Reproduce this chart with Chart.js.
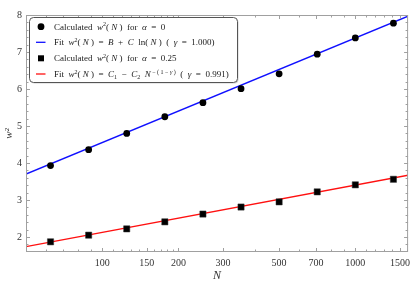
<!DOCTYPE html>
<html lang="en">
<head>
<meta charset="UTF-8">
<title>w2 vs N</title>
<script src="https://cdn.jsdelivr.net/npm/chart.js"></script>
<style>
  html, body { margin: 0; padding: 0; background: #fff; }
  #wrap { width: 415px; height: 286px; position: relative; }
</style>
</head>
<body>
<div id="wrap"><canvas id="grafico"></canvas></div>
<script>
  // sizes N and measured w^2
  const tamanhos = [62.5, 88.4, 125, 176.8, 250, 353.6, 500, 707.1, 1000, 1414.2];
  const w2Alpha0 = [3.93, 4.36, 4.80, 5.25, 5.63, 6.01, 6.41, 6.94, 7.38, 7.78];
  const w2Alpha025 = [1.87, 2.05, 2.22, 2.41, 2.62, 2.81, 2.95, 3.22, 3.41, 3.56];
  // fit curves, read at the frame edges
  const ajusteN = [50, 1616];
  const ajusteLog = [3.70, 7.97];
  const ajustePot = [1.74, 3.67];
  // axis ticks
  const ticksX = [100, 150, 200, 300, 500, 700, 1000, 1500];
  const ticksXmenor = [60, 70, 80, 90, 110, 120, 130, 140, 160, 170, 180, 190, 400, 600, 800, 900, 1100, 1200, 1300, 1400, 1600];
  const ticksY = [2, 3, 4, 5, 6, 7, 8];

  const serif = '"Liberation Serif", "DejaVu Serif", serif';
  const pares = (xs, ys) => xs.map((x, i) => ({ x: x, y: ys[i] }));

  // legend text pieces: r roman, i italic, s superscript, b subscript
  const legenda = [
    { tipo: 'circle', partes: [['Calculated  ', 'r'], ['w', 'i'], ['2', 's'], ['( ', 'r'], ['N', 'i'], [' )  for  ', 'r'], ['α', 'i'], ['  =  0', 'r']] },
    { tipo: 'line', cor: '#1010ff', partes: [['Fit  ', 'r'], ['w', 'i'], ['2', 's'], ['( ', 'r'], ['N', 'i'], [' )  =  ', 'r'], ['B', 'i'], ['  +  ', 'r'], ['C', 'i'], ['  ln( ', 'r'], ['N', 'i'], [' )  (  ', 'r'], ['γ', 'i'], ['  =  1.000)', 'r']] },
    { tipo: 'rect', partes: [['Calculated  ', 'r'], ['w', 'i'], ['2', 's'], ['( ', 'r'], ['N', 'i'], [' )  for  ', 'r'], ['α', 'i'], ['  =  0.25', 'r']] },
    { tipo: 'line', cor: '#ff1010', partes: [['Fit  ', 'r'], ['w', 'i'], ['2', 's'], ['( ', 'r'], ['N', 'i'], [' )  =  ', 'r'], ['C', 'i'], ['1', 'b'], ['  −  ', 'r'], ['C', 'i'], ['2', 'b'], ['  ', 'r'], ['N', 'i'], [' − ( 1 − ', 's'], ['γ', 'si'], [' )', 's'], ['  (  ', 'r'], ['γ', 'i'], ['  =  0.991)', 'r']] }
  ];

  const moldura = {
    id: 'moldura',
    afterDraw(chart) {
      const { ctx, chartArea: a, scales } = chart;
      ctx.save();
      ctx.strokeStyle = '#a0a0a0';
      ctx.lineWidth = 1;
      ctx.strokeRect(a.left + 0.5, a.top + 0.5, a.right - a.left - 1, a.bottom - a.top - 1);
      ctx.beginPath();
      const tx = (v, len) => {
        const px = Math.round(scales.x.getPixelForValue(v)) + 0.5;
        if (px < a.left || px > a.right) return;
        ctx.moveTo(px, a.bottom); ctx.lineTo(px, a.bottom - len);
        ctx.moveTo(px, a.top); ctx.lineTo(px, a.top + len);
      };
      const ty = (v, len) => {
        const py = Math.round(scales.y.getPixelForValue(v)) + 0.5;
        if (py < a.top || py > a.bottom) return;
        ctx.moveTo(a.left, py); ctx.lineTo(a.left + len, py);
        ctx.moveTo(a.right, py); ctx.lineTo(a.right - len, py);
      };
      ticksX.forEach(v => tx(v, 4));
      ticksXmenor.forEach(v => tx(v, 2.5));
      for (let v = 1.6; v < 8.01; v += 0.2) {
        const inteiro = Math.abs(v - Math.round(v)) < 0.01;
        ty(v, inteiro ? 4 : 2.5);
      }
      ctx.stroke();
      ctx.restore();
    }
  };

  const caixaLegenda = {
    id: 'caixaLegenda',
    afterDraw(chart) {
      const ctx = chart.ctx;
      const x0 = 29, y0 = 17, w = 208, h = 65;
      ctx.save();
      // shadow
      ctx.fillStyle = 'rgba(0,0,0,0.18)';
      ctx.beginPath(); ctx.roundRect(x0 + 1.5, y0 + 1.5, w, h, 4); ctx.fill();
      ctx.fillStyle = '#fff';
      ctx.strokeStyle = '#555';
      ctx.lineWidth = 1;
      ctx.beginPath(); ctx.roundRect(x0 + 0.5, y0 + 0.5, w, h, 4); ctx.fill(); ctx.stroke();

      const linhas = [26.7, 42.3, 58.3, 74];
      legenda.forEach((item, k) => {
        const cy = linhas[k];
        ctx.fillStyle = '#000';
        if (item.tipo === 'circle') {
          ctx.beginPath(); ctx.arc(41, cy, 3.4, 0, Math.PI * 2); ctx.fill();
        } else if (item.tipo === 'rect') {
          ctx.fillRect(38, cy - 3, 6, 6);
        } else {
          ctx.strokeStyle = item.cor; ctx.lineWidth = 1.3;
          ctx.beginPath(); ctx.moveTo(36, cy); ctx.lineTo(45.5, cy); ctx.stroke();
        }
        let x = 54;
        ctx.textBaseline = 'alphabetic';
        ctx.fillStyle = '#1a1a1a';
        item.partes.forEach(([t, st]) => {
          let dy = 3, tam = 9, it = false;
          if (st === 'i') it = true;
          if (st === 's' || st === 'si') { tam = 6; dy = -0.5; it = st === 'si'; }
          if (st === 'b') { tam = 6; dy = 5; }
          ctx.font = (it ? 'italic ' : '') + tam + 'px ' + serif;
          ctx.fillText(t, x, cy + dy);
          x += ctx.measureText(t).width;
        });
      });
      ctx.restore();
    }
  };

  new Chart(document.getElementById('grafico'), {
    type: 'scatter',
    data: {
      datasets: [
        { data: pares(tamanhos, w2Alpha0), pointStyle: 'circle', pointRadius: 3.4, backgroundColor: '#000', borderColor: '#000', borderWidth: 0, order: 0 },
        { data: pares(tamanhos, w2Alpha025), pointStyle: 'rect', pointRadius: 4.4, backgroundColor: '#000', borderColor: '#333', borderWidth: 0.5, order: 1 },
        { data: pares(ajusteN, ajusteLog), showLine: true, pointRadius: 0, borderColor: '#1010ff', borderWidth: 1.4, order: 2 },
        { data: pares(ajusteN, ajustePot), showLine: true, pointRadius: 0, borderColor: '#ff1010', borderWidth: 1.4, order: 3 }
      ]
    },
    options: {
      responsive: true,
      maintainAspectRatio: false,
      animation: false,
      layout: { padding: { top: 15, right: 4, left: 0, bottom: 0 } },
      plugins: { legend: { display: false }, tooltip: { enabled: false } },
      scales: {
        x: {
          type: 'logarithmic',
          min: 50, max: 1616,
          afterBuildTicks: s => { s.ticks = ticksX.map(v => ({ value: v })); },
          afterFit: s => { s.height = 34; },
          grid: { display: false, drawTicks: false },
          border: { display: false },
          ticks: { color: '#333', padding: 5, maxRotation: 0, autoSkip: false, font: { family: serif, size: 10 }, callback: v => String(v) },
          title: { display: true, text: 'N', color: '#333', padding: { top: 0, bottom: 3 }, font: { family: serif, size: 12, style: 'italic' } }
        },
        y: {
          min: 1.595, max: 8.0,
          afterBuildTicks: s => { s.ticks = ticksY.map(v => ({ value: v })); },
          afterFit: s => { s.width = 26; },
          grid: { display: false, drawTicks: false },
          border: { display: false },
          ticks: { color: '#333', padding: 4, font: { family: serif, size: 10 }, callback: v => String(v) },
          title: { display: true, text: 'w²', color: '#333', padding: { top: 3, bottom: 0 }, font: { family: serif, size: 11, style: 'italic' } }
        }
      }
    },
    plugins: [moldura, caixaLegenda]
  });
</script>
</body>
</html>
